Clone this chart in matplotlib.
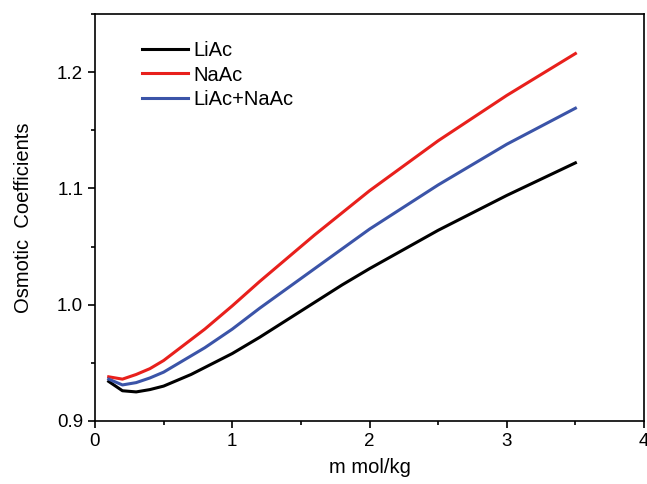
import matplotlib

matplotlib.use("Agg")
import matplotlib.pyplot as plt
from matplotlib.ticker import MultipleLocator

plt.rcParams["font.family"] = ["Liberation Sans", "DejaVu Sans"]

# molality (mol/kg)
m = [0.1, 0.2, 0.3, 0.4, 0.5, 0.6, 0.7, 0.8, 0.9, 1.0,
     1.2, 1.4, 1.6, 1.8, 2.0, 2.5, 3.0, 3.5]

liac = [0.934, 0.926, 0.925, 0.927, 0.930, 0.935, 0.940, 0.946, 0.952, 0.958,
        0.972, 0.987, 1.002, 1.017, 1.031, 1.064, 1.094, 1.122]
naac = [0.938, 0.936, 0.940, 0.945, 0.952, 0.961, 0.970, 0.979, 0.989, 0.999,
        1.020, 1.040, 1.060, 1.079, 1.098, 1.141, 1.180, 1.216]
mix = [0.936, 0.931, 0.933, 0.937, 0.942, 0.949, 0.956, 0.963, 0.971, 0.979,
       0.997, 1.014, 1.031, 1.048, 1.065, 1.103, 1.138, 1.169]

series = [("LiAc", liac, "#000000"),
          ("NaAc", naac, "#e8201c"),
          ("LiAc+NaAc", mix, "#3b54a8")]

fig = plt.figure(figsize=(6.47, 4.84), dpi=100)
ax = fig.add_axes((0.1468, 0.1302, 0.8486, 0.8408))

for name, vals, col in series:
    ax.plot(m, vals, color=col, lw=2.2, label=name)

ax.set_xlim(0, 4)
ax.set_ylim(0.9, 1.25)
ax.xaxis.set_major_locator(MultipleLocator(1))
ax.xaxis.set_minor_locator(MultipleLocator(0.5))
ax.yaxis.set_major_locator(MultipleLocator(0.1))
ax.yaxis.set_minor_locator(MultipleLocator(0.05))
ax.yaxis.set_major_formatter(plt.FormatStrFormatter("%.1f"))
ax.tick_params(which="major", direction="out", length=5, width=1.2, labelsize=13.5)
ax.tick_params(which="minor", direction="out", length=3, width=1.2)
for s in ax.spines.values():
    s.set_linewidth(1.2)

ax.set_xlabel("m mol/kg", fontsize=14.5, labelpad=6)
ax.set_ylabel("Osmotic  Coefficients", fontsize=14.5, labelpad=17)

ax.legend(loc="upper left", bbox_to_anchor=(0.0856, 0.933), frameon=False,
          fontsize=14.5, handlelength=2.3, handletextpad=0.25, labelspacing=0.26,
          borderaxespad=0, borderpad=0)

fig.savefig("out.png", dpi=100)
